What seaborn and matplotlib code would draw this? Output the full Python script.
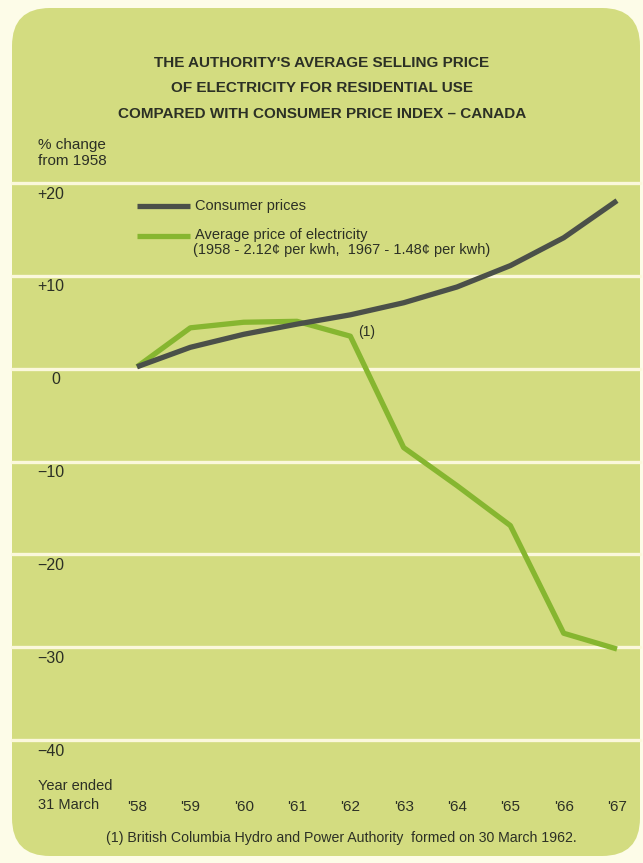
import matplotlib
matplotlib.use("Agg")
import matplotlib.pyplot as plt
import matplotlib.transforms as mtransforms
from matplotlib.patches import FancyBboxPatch
from matplotlib.lines import Line2D
import pandas as pd
import seaborn as sns

# ---- data -------------------------------------------------------------
years = [1958, 1959, 1960, 1961, 1962, 1963, 1964, 1965, 1966, 1967]
year_labels = ["'58", "'59", "'60", "'61", "'62", "'63", "'64", "'65", "'66", "'67"]
consumer_prices = [0.2, 2.3, 3.7, 4.8, 5.8, 7.1, 8.8, 11.1, 14.1, 18.1]
electricity_price = [0.2, 4.4, 5.0, 5.1, 3.5, -8.5, -12.6, -16.9, -28.5, -30.2]
y_ticks = [20, 10, 0, -10, -20, -30, -40]
y_tick_labels = ["+20", "+10", "0", "\u221210", "\u221220", "\u221230", "\u221240"]

title_lines = [
    "THE AUTHORITY'S AVERAGE SELLING PRICE",
    "OF ELECTRICITY FOR RESIDENTIAL USE",
    "COMPARED WITH CONSUMER PRICE INDEX \u2013 CANADA",
]
legend_labels = ["Consumer prices", "Average price of electricity",
                 "(1958 - 2.12\u00a2 per kwh,  1967 - 1.48\u00a2 per kwh)"]
footnote = "(1) British Columbia Hydro and Power Authority  formed on 30 March 1962."

df = pd.DataFrame({"year": years, "consumer": consumer_prices,
                   "electricity": electricity_price})

# ---- style ------------------------------------------------------------
sns.set_style("white")
plt.rcParams["font.family"] = ["Liberation Sans", "DejaVu Sans"]

W, H = 643, 863
PAGE = "#fdfce8"
CARD = "#d3dc80"
GRID = "#fbf8dc"
DARK = "#4b5049"
GREEN = "#86b630"
TEXT = "#2c3025"

fig = plt.figure(figsize=(W / 100, H / 100), dpi=100, facecolor=PAGE)

# card behind the chart, in pixel units
bg = fig.add_axes([0, 0, 1, 1])
bg.set_xlim(0, W)
bg.set_ylim(H, 0)
bg.axis("off")
bg.add_patch(FancyBboxPatch((12, 8), 628, 848,
                            boxstyle="round,pad=0,rounding_size=38",
                            fc=CARD, ec="none"))


def px_text(x, y, s, **kw):
    kw.setdefault("color", TEXT)
    return fig.text(x / W, 1 - y / H, s, **kw)


# plotting area: left/right at the card edges, +20 to -40 vertically
ax = fig.add_axes([12 / W, 1 - 740 / H, 628 / W, 557 / H])
ax.patch.set_alpha(0)
x_per_px = 9 / (617 - 137)
ax.set_xlim(1958 - (137 - 12) * x_per_px, 1967 + (640 - 617) * x_per_px)
ax.set_ylim(-40, 20)
for s in ax.spines.values():
    s.set_visible(False)

for v in y_ticks:
    ax.axhline(v, color=GRID, lw=2.4, clip_on=False, zorder=1)

sns.lineplot(data=df, x="year", y="electricity", ax=ax, color=GREEN, lw=3.8,
             solid_capstyle="butt", zorder=3)
sns.lineplot(data=df, x="year", y="consumer", ax=ax, color=DARK, lw=3.8,
             solid_capstyle="butt", zorder=4)

ax.set_xlabel("")
ax.set_ylabel("")
ax.set_yticks([])
ax.set_xticks(years)
ax.set_xticklabels(year_labels, fontsize=11, color=TEXT)
ax.tick_params(axis="x", length=0, pad=43)

# value labels sit just below each gridline
lab_tr = mtransforms.offset_copy(ax.get_yaxis_transform(), fig=fig,
                                 x=0, y=-11, units="dots")
for v, lab in zip(y_ticks, y_tick_labels):
    ax.text((51 - 12) / 628 if v != 0 else (56 - 12) / 628, v, lab,
            transform=lab_tr, ha="center", va="center",
            fontsize=11.5, color=TEXT)

# "(1)" marker next to the 1962 electricity point
ax.annotate("(1)", xy=(years[4], electricity_price[4]), xytext=(8, 4),
            textcoords="offset pixels", ha="left", va="center",
            fontsize=10, color=TEXT)

# legend
lax = bg
lax.add_line(Line2D([137, 190], [206, 206], color=DARK, lw=3.8,
                    solid_capstyle="butt"))
lax.add_line(Line2D([137, 190], [236, 236], color=GREEN, lw=3.8,
                    solid_capstyle="butt"))
px_text(195, 206, legend_labels[0], fontsize=10.5, va="center")
px_text(195, 235, legend_labels[1], fontsize=10.5, va="center")
px_text(193, 250, legend_labels[2], fontsize=10.5, va="center")

# title and side captions
for i, line in enumerate(title_lines):
    px_text(322, 63 + i * 25.5, line, fontweight="bold",
            fontsize=11, ha="center", va="center")

px_text(38, 145, "% change", fontsize=11, va="center")
px_text(38, 161, "from 1958", fontsize=11, va="center")
px_text(38, 786, "Year ended", fontsize=10.5, va="center")
px_text(38, 805, "31 March", fontsize=10.5, va="center")
px_text(341, 838, footnote, fontsize=10.2, ha="center", va="center")

fig.savefig("out.png", dpi=100, facecolor=PAGE)
